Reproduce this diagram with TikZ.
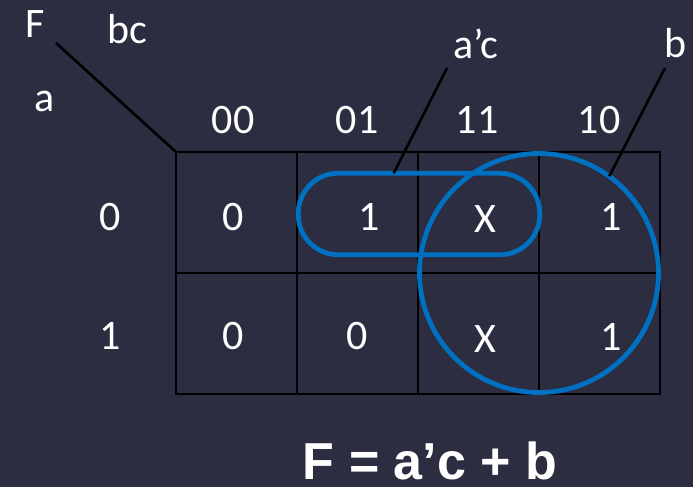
\documentclass[tikz,border=0pt]{standalone}
\usepackage{fontspec}
\setmainfont{Carlito}
\newfontfamily\eqfont{Liberation Sans}
\usetikzlibrary{positioning,calc}
\definecolor{slate}{RGB}{44,45,65}
\definecolor{loopblue}{RGB}{0,112,192}

\begin{document}
\begin{tikzpicture}[
    x=1pt, y=-1pt,
    node distance=0pt,
    every node/.style={
        text=white,
        inner sep=0pt,
        outer sep=0pt,
        font=\fontsize{42}{50}\selectfont
      },
    cell/.style={draw=black, line width=2.8pt, minimum size=121pt},
    loopline/.style={draw=loopblue, line width=4.8pt},
    leader/.style={draw=black, line width=2.6pt}
  ]
  \fill[slate] (0,0) rectangle (693,487);
  \useasboundingbox (0,0) rectangle (693,487);

  % corner labels
  \node (fname) at (35,24) {F};
  \node (bcname) at (127,29) {bc};
  \node (aname) at (45,101) {a};

  % column and row headings
  \node (col00) at (233,120) {00};
  \node (col01) at (357,120) {01};
  \node (col11) at (477,120) {11};
  \node (col10) at (599,120) {10};
  \node (row0) at (110,217) {0};
  \node (row1) at (110,336) {1};

  % map cells
  \node[cell] (c00) at (236.5,212.5) {};
  \node[cell, right=of c00] (c01) {};
  \node[cell, right=of c01] (c11) {};
  \node[cell, right=of c11] (c10) {};
  \node[cell, below=of c00] (d00) {};
  \node[cell, below=of c01] (d01) {};
  \node[cell, below=of c11] (d11) {};
  \node[cell, below=of c10] (d10) {};

  % cell values
  \node (v00) at (233,217) {0};
  \node (v01) at (369,217) {1};
  \node (v11) at (485,219) {X};
  \node (v10) at (611,217) {1};
  \node (w00) at (233,336) {0};
  \node (w01) at (357,336) {0};
  \node (w11) at (485,339) {X};
  \node (w10) at (611,337) {1};

  % groups
  \node[loopline, rounded corners=40pt, minimum width=241.5pt, minimum height=81.5pt] (acloop) at (419,214) {};
  \node[loopline, circle, minimum size=239pt] (bloop) at (539,273) {};

  % group labels
  \node (aclabel) at (476,44) {a’c};
  \node (blabel) at (676,43) {b};

  \coordinate (fcorner) at (56,43);
  \coordinate (acfoot) at (447,68);
  \coordinate (bfoot) at (665,68);
  \coordinate (acend) at ($(acloop.north west)!0.395!(acloop.north east)$);

  \draw[leader] (fcorner) -- (c00.north west);
  \draw[leader] (acfoot) -- (acend);
  \draw[leader] (bfoot) -- (bloop.54);

  % result
  \node[font=\eqfont\bfseries\fontsize{52}{60}\selectfont] (result) at (430,461) {F = a’c + b};
\end{tikzpicture}
\end{document}
